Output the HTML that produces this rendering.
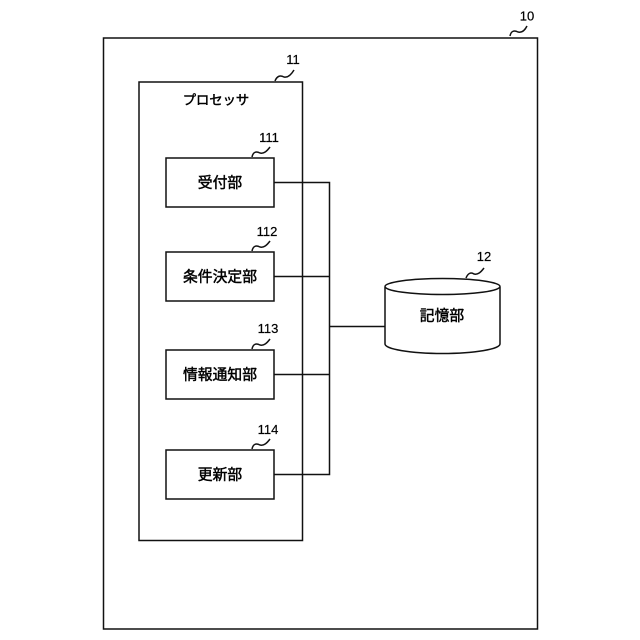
<!DOCTYPE html>
<html><head><meta charset="utf-8"><style>
html,body{margin:0;padding:0;background:#fff}
svg{display:block}
text{font-family:"Liberation Sans","Noto Sans CJK JP",sans-serif;fill:#000}
.j{font-size:14.8px;font-weight:400;text-anchor:middle;font-family:"Noto Sans CJK JP",sans-serif;stroke:#000;stroke-width:.45px}
.k{font-size:13.3px}
.n{font-size:13px;text-anchor:middle;stroke:#000;stroke-width:.2px}
</style></head><body>
<svg width="640" height="640" viewBox="0 0 640 640" fill="none" stroke="#111" stroke-width="1.5">
<rect x="103.500" y="38" width="434" height="591"/>
<rect x="139" y="82" width="163.500" height="458.500"/>
<rect x="166" y="158" width="108" height="49"/>
<rect x="166" y="252" width="108" height="49"/>
<rect x="166" y="350" width="108" height="49"/>
<rect x="166" y="450" width="108" height="49"/>
<path d="M274 182.500H329.500V474.500H274M274 276.500H329.500M274 374.500H329.500M329.500 326.500H385"/>
<path d="M385 287V344C385 349 410 353.500 442.500 353.500S500 349 500 344V287" fill="#fff"/>
<ellipse cx="442.500" cy="286.500" rx="57.500" ry="8" fill="#fff"/>
<path d="M510 36C511 31 514 30 518 32C522 33 525 30 527 26"/>
<path d="M275 81C277 76 280 75 284 77C288 78 291 75 294 70"/>
<path d="M252 157C253 152 256 151 260 153C264 154 267 151 270 147"/>
<path d="M252 251C253 246 256 245 260 247C264 248 267 245 270 241"/>
<path d="M252 349C253 344 256 343 260 345C264 346 267 343 270 339"/>
<path d="M252 449C253 444 256 443 260 445C264 446 267 443 270 439"/>
<path d="M466 278C468 273 471 272 474 274C478 275 481 272 484 268"/>
<g stroke="none">
<text class="n" x="527" y="20.500">10</text>
<text class="n" x="293" y="64">11</text>
<text class="n" x="269" y="142">111</text>
<text class="n" x="267" y="236">112</text>
<text class="n" x="268" y="333">113</text>
<text class="n" x="268" y="434">114</text>
<text class="n" x="484" y="261">12</text>
<text class="j k" x="216" y="104.500">プロセッサ</text>
<text class="j" x="220" y="187.500">受付部</text>
<text class="j" x="220" y="281.500">条件決定部</text>
<text class="j" x="220" y="379.500">情報通知部</text>
<text class="j" x="220" y="479.500">更新部</text>
<text class="j" x="442" y="320.500">記憶部</text>
</g>
</svg>
</body></html>
